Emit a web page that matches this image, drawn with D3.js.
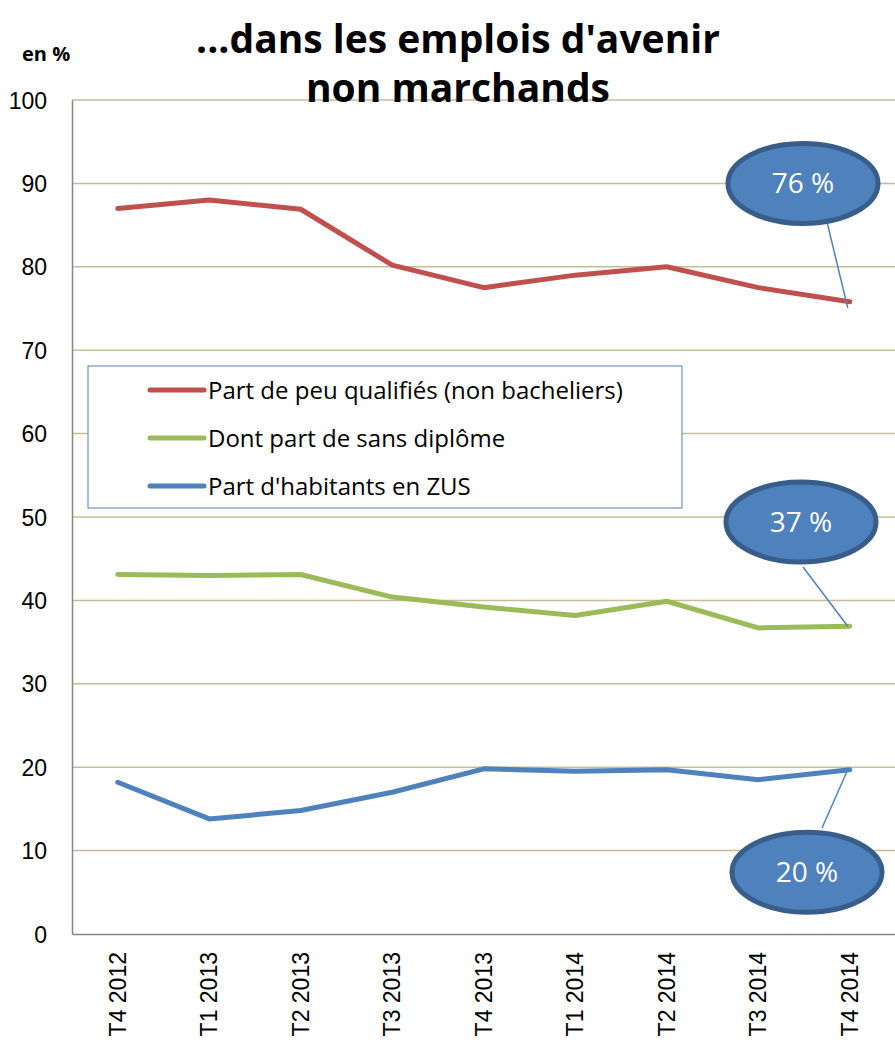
<html>
<head>
<meta charset="utf-8">
<title>Emplois d'avenir non marchands</title>
<style>
  body { margin: 0; background: #fff; }
  svg { display: block; }
  .tick text { font-family: "Liberation Sans", Arial, sans-serif; fill: #000; }
</style>
</head>
<body>
<div id="graph"></div>
<script src="https://cdnjs.cloudflare.com/ajax/libs/d3/7.8.5/d3.min.js"></script>
<script>
// data
var quarters = ["T4 2012", "T1 2013", "T2 2013", "T3 2013", "T4 2013", "T1 2014", "T2 2014", "T3 2014", "T4 2014"];
var peuQualifies = [87, 88, 86.9, 80.2, 77.5, 79, 80, 77.5, 75.8];
var sansDiplome = [43.1, 43, 43.1, 40.4, 39.2, 38.2, 39.9, 36.7, 36.9];
var habitantsZus = [18.2, 13.8, 14.8, 17, 19.8, 19.5, 19.7, 18.5, 19.7];
var yTicks = [0, 10, 20, 30, 40, 50, 60, 70, 80, 90, 100];
var seriesNames = ["Part de peu qualifiés (non bacheliers)", "Dont part de sans diplôme", "Part d'habitants en ZUS"];
var seriesColors = ["#c0504d", "#9bbb59", "#4f81bd"];
var bubbleLabels = ["76 %", "37 %", "20 %"];

var series = [peuQualifies, sansDiplome, habitantsZus];

var W = 895, H = 1040;
var svg = d3.select("#graph").append("svg").attr("width", W).attr("height", H);

var x = d3.scaleBand().domain(quarters).range([72, 895.5]);
var y = d3.scaleLinear().domain([0, 100]).range([934, 100]);

// gridlines
svg.append("g").selectAll("line").data(yTicks.filter(function(d) { return d > 0; }))
  .enter().append("line")
  .attr("x1", 72).attr("x2", W)
  .attr("y1", function(d) { return y(d); }).attr("y2", function(d) { return y(d); })
  .attr("stroke", "#c4bd97").attr("stroke-width", 1.5);

// y axis
var yAxis = svg.append("g").attr("transform", "translate(72,0)")
  .call(d3.axisLeft(y).tickValues(yTicks).tickSize(0).tickPadding(25));
yAxis.select(".domain").attr("stroke", "#868686").attr("stroke-width", 1.5);
yAxis.selectAll(".tick text").style("font-size", "23px").attr("dy", "0.35em");

// x axis, labels turned upright
var xAxis = svg.append("g").attr("transform", "translate(0,934)")
  .call(d3.axisBottom(x).tickSize(0).tickPadding(0));
xAxis.select(".domain").attr("stroke", "#868686").attr("stroke-width", 1.5);
xAxis.selectAll(".tick text")
  .style("font-size", "23px")
  .attr("text-anchor", "end")
  .attr("transform", "translate(8,18) rotate(-90)")
  .attr("dy", "0")
  .attr("y", 0);

// lines
var line = d3.line()
  .x(function(d, i) { return x(quarters[i]) + x.bandwidth() / 2; })
  .y(function(d) { return y(d); });

svg.append("g").selectAll("path").data(series).enter().append("path")
  .attr("d", line)
  .attr("fill", "none")
  .attr("stroke", function(d, i) { return seriesColors[i]; })
  .attr("stroke-width", 5)
  .attr("stroke-linejoin", "round")
  .attr("stroke-linecap", "round");

// legend
var legend = svg.append("g");
legend.append("rect").attr("x", 88).attr("y", 366).attr("width", 594).attr("height", 142)
  .attr("fill", "#fff").attr("stroke", "#4f81bd").attr("stroke-width", 1);
seriesNames.forEach(function(name, i) {
  var ly = 390 + i * 48;
  legend.append("line").attr("x1", 150).attr("x2", 204).attr("y1", ly).attr("y2", ly)
    .attr("stroke", seriesColors[i]).attr("stroke-width", 5).attr("stroke-linecap", "round");
  legend.append("text").attr("x", 208).attr("y", ly + 9)
    .style("font-family", "'Open Sans', sans-serif").style("font-size", "24px")
    .text(name);
});

// callout bubbles
var lastX = x(quarters[8]) + x.bandwidth() / 2;
var bubbleX = [803, 801, 807];
var bubbleY = [y(90), y(49.4), y(7.4)];
var leaderX = [827, 803, 822];
var leaderY = [222, 567, 828];
series.forEach(function(s, i) {
  var g = svg.append("g");
  g.append("line").attr("x1", leaderX[i]).attr("y1", leaderY[i])
    .attr("x2", lastX - 2).attr("y2", y(s[8]) + (i === 0 ? 6 : 0))
    .attr("stroke", "#4f81bd").attr("stroke-width", 1.5);
  g.append("ellipse").attr("cx", bubbleX[i]).attr("cy", bubbleY[i]).attr("rx", 75).attr("ry", 40)
    .attr("fill", "#4f81bd").attr("stroke", "#385d8a").attr("stroke-width", 5);
  g.append("text").attr("x", bubbleX[i]).attr("y", bubbleY[i] + 10)
    .attr("text-anchor", "middle").attr("fill", "#fff")
    .style("font-family", "'Open Sans', sans-serif").style("font-size", "28px")
    .text(bubbleLabels[i]);
});

// title, two separate lines
svg.append("text").attr("text-anchor", "middle").attr("x", 458).attr("y", 53)
  .style("font-family", "'Open Sans', sans-serif").style("font-weight", "bold").style("font-size", "39px")
  .text("...dans les emplois d'avenir");
svg.append("text").attr("text-anchor", "middle").attr("x", 458).attr("y", 102)
  .style("font-family", "'Open Sans', sans-serif").style("font-weight", "bold").style("font-size", "39px")
  .text("non marchands");

svg.append("text").attr("x", 22).attr("y", 61)
  .style("font-family", "'Open Sans', sans-serif").style("font-weight", "bold").style("font-size", "20px")
  .text("en %");
</script>
</body>
</html>
